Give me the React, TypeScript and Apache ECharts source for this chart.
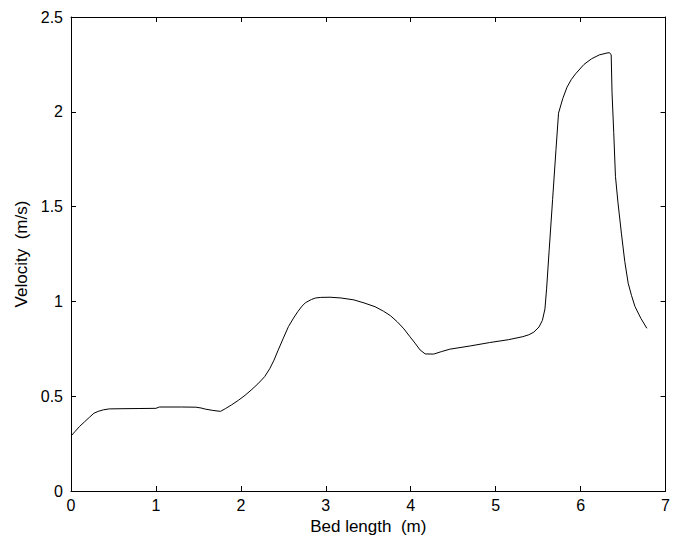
import React, { useEffect, useRef } from "react";
import * as echarts from "echarts";

const bedLength: number[] = [
  0.0, 0.05, 0.1, 0.16, 0.22, 0.27, 0.32, 0.38, 0.45, 0.6, 0.8, 1.0, 1.04, 1.3, 1.47, 1.53, 1.58, 1.67, 1.76,
  1.82, 1.89, 1.97, 2.05, 2.12, 2.2, 2.28, 2.34, 2.39, 2.44, 2.5, 2.56, 2.62, 2.67, 2.72, 2.76, 2.83, 2.88,
  2.94, 3.05, 3.18, 3.33, 3.45, 3.58, 3.68, 3.76, 3.84, 3.92, 3.99, 4.05, 4.11, 4.17, 4.27, 4.36, 4.46,
  4.7, 4.93, 5.15, 5.32, 5.39, 5.45, 5.51, 5.55, 5.58, 5.6, 5.63, 5.67, 5.71, 5.74, 5.79, 5.84, 5.89,
  5.94, 6.04, 6.13, 6.22, 6.31, 6.34, 6.36, 6.37, 6.39, 6.41, 6.44, 6.48, 6.52, 6.56, 6.6, 6.64, 6.71, 6.78,
];
const velocity: number[] = [
  0.29, 0.315, 0.34, 0.365, 0.39, 0.41, 0.42, 0.428, 0.433, 0.434, 0.435, 0.436, 0.443, 0.443, 0.442, 0.438, 0.432, 0.425, 0.42,
  0.435, 0.454, 0.478, 0.505, 0.532, 0.565, 0.603, 0.645, 0.69, 0.744, 0.806, 0.867, 0.912, 0.946, 0.975, 0.993, 1.01, 1.018,
  1.021, 1.022, 1.018, 1.008, 0.992, 0.972, 0.948, 0.925, 0.893, 0.855, 0.814, 0.78, 0.744, 0.723, 0.722, 0.735, 0.748,
  0.765, 0.783, 0.798, 0.814, 0.824, 0.838, 0.865, 0.9, 0.96, 1.07, 1.272, 1.536, 1.8, 1.993, 2.07, 2.13, 2.17,
  2.2, 2.25, 2.28, 2.3, 2.31, 2.312, 2.3, 2.1, 1.89, 1.66, 1.52, 1.36, 1.21, 1.096, 1.03, 0.973, 0.91, 0.858,
];
const xTicks = [0, 1, 2, 3, 4, 5, 6, 7];
const yTicks = [0, 0.5, 1, 1.5, 2, 2.5];

export default function App() {
  const ref = useRef<HTMLDivElement>(null);
  useEffect(() => {
    if (!ref.current) return;
    const chart = echarts.init(ref.current, undefined, { renderer: "svg" });
    const font = "Arial, 'Liberation Sans', sans-serif";
    const data = bedLength.map((x, i) => [x, velocity[i]]);
    const axisLine = { show: true, onZero: false, lineStyle: { color: "#000", width: 1 } };
    const tick = { show: true, inside: true, length: 5, lineStyle: { color: "#000" } };
    chart.setOption({
      animation: false,
      backgroundColor: "#fff",
      grid: { left: 71, top: 17, right: 2, bottom: 53, containLabel: false },
      xAxis: [
        {
          type: "value",
          min: xTicks[0],
          max: xTicks[xTicks.length - 1],
          interval: 1,
          position: "bottom",
          name: "Bed length  (m)",
          nameLocation: "middle",
          nameGap: 25,
          nameTextStyle: { fontFamily: font, fontSize: 17, color: "#000" },
          axisLine,
          axisTick: tick,
          axisLabel: { fontFamily: font, fontSize: 16, color: "#000", margin: 6 },
          splitLine: { show: false },
        },
        {
          type: "value",
          min: xTicks[0],
          max: xTicks[xTicks.length - 1],
          interval: 1,
          position: "top",
          axisLine,
          axisTick: tick,
          axisLabel: { show: false },
          splitLine: { show: false },
        },
      ],
      yAxis: [
        {
          type: "value",
          min: yTicks[0],
          max: yTicks[yTicks.length - 1],
          interval: 0.5,
          position: "left",
          name: "Velocity  (m/s)",
          nameLocation: "middle",
          nameGap: 40,
          nameTextStyle: { fontFamily: font, fontSize: 17, color: "#000" },
          axisLine,
          axisTick: tick,
          axisLabel: { fontFamily: font, fontSize: 16, color: "#000", margin: 8 },
          splitLine: { show: false },
        },
        {
          type: "value",
          min: yTicks[0],
          max: yTicks[yTicks.length - 1],
          interval: 0.5,
          position: "right",
          axisLine,
          axisTick: tick,
          axisLabel: { show: false },
          splitLine: { show: false },
        },
      ],
      series: [
        {
          type: "line",
          data,
          showSymbol: false,
          symbol: "none",
          smooth: false,
          lineStyle: { color: "#000", width: 1 },
          xAxisIndex: 0,
          yAxisIndex: 0,
        },
      ],
    });
    return () => chart.dispose();
  }, []);
  return <div ref={ref} style={{ width: 673, height: 544, position: "absolute", left: 0, top: 0 }} />;
}
